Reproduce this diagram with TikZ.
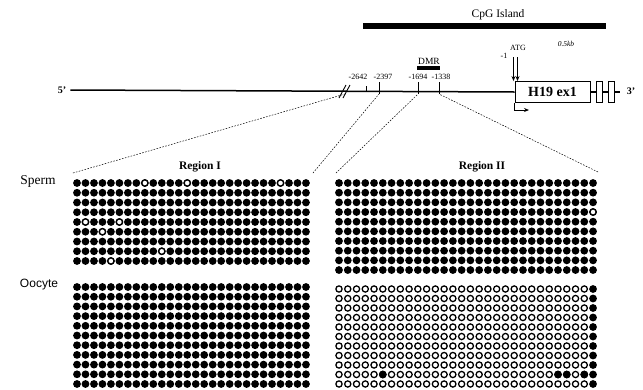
\documentclass[tikz,border=0pt]{standalone}
\usepackage{fontspec}
\setmainfont{Liberation Serif}
\newfontfamily\labsans{Liberation Sans}
\usetikzlibrary{arrows.meta,positioning}

\begin{document}
\begin{tikzpicture}[x=1pt,y=-1pt,
    every node/.style={inner sep=0pt},
    dna/.style={line width=1.5pt},
    tickmark/.style={line width=1pt},
    poslbl/.style={font=\fontsize{8}{8}\selectfont},
    reglbl/.style={font=\fontsize{11.5}{12}\selectfont\bfseries},
    rowlbl/.style={font=\fontsize{13.5}{14}\selectfont},
    zoomline/.style={line width=0.5pt,dash pattern=on 1.6pt off 1.4pt},
    unmeth/.style={draw=black,fill=white,line width=1.3pt},
    exonbox/.style={rectangle,draw,line width=0.9pt,fill=white,
                    minimum width=75pt,minimum height=21pt,
                    font=\fontsize{14}{14}\selectfont\bfseries},
    smallexon/.style={rectangle,draw,line width=0.9pt,fill=white,
                      minimum width=6pt,minimum height=21pt},
    atgarr/.style={-{Stealth[length=5pt,width=4pt]},line width=1.3pt}
  ]
  \useasboundingbox (0,0) rectangle (643,389);

  % CpG island
  \node[font=\fontsize{11.5}{12}\selectfont] (cpg) at (498,15) {CpG Island};
  \draw[line width=6pt] (363,25.5) -- (606,25.5);

  % gene line
  \node[font=\fontsize{10}{10}\selectfont\bfseries] (five) at (62,90) {5'};
  \node[exonbox] (ex1) at (552.5,92) {H19 ex1};
  \node[smallexon] (ex2) at (599,92) {};
  \node[smallexon] (ex3) at (611,92) {};
  \node[font=\fontsize{10}{10}\selectfont\bfseries] (three) at (631,91) {3'};
  \coordinate (lineend) at (620,92);
  \draw[dna] (five.east) ++(4pt,0) coordinate (start) -- (ex1.west);
  \draw[dna] (ex1.east) -- (ex2.west);
  \draw[dna] (ex2.east) -- (ex3.west);
  \draw[dna] (ex3.east) -- (lineend);

  % break
  \draw[line width=0.9pt] (339,98) -- (346,85);
  \draw[line width=0.9pt] (343,98) -- (350,85);
  \coordinate (brk) at (345,94);

  % positions
  \coordinate (t2642) at (366,91);
  \coordinate (t2397) at (379,94);
  \coordinate (t1694) at (418,94);
  \coordinate (t1338) at (439,94);
  \draw[line width=0.8pt] (t2642) -- ++(0,-5);
  \draw[tickmark] (t2397) -- ++(0,-12);
  \draw[tickmark] (t1694) -- ++(0,-12);
  \draw[tickmark] (t1338) -- ++(0,-12);
  \node[poslbl] (l2642) at (358,77) {-2642};
  \node[poslbl] (l2397) at (383,77) {-2397};
  \node[poslbl] (l1694) at (418,77) {-1694};
  \node[poslbl] (l1338) at (441,77) {-1338};

  % DMR
  \node[font=\fontsize{9.5}{9.5}\selectfont] (dmr) at (429,61) {DMR};
  \draw[line width=4pt] (417,67.5) -- (440,67.5);

  % ATG and start site
  \node[poslbl] (atg) at (518,48) {ATG};
  \node[poslbl] (m1) at (504,56) {-1};
  \coordinate (atgA) at (513.5,57);
  \coordinate (atgB) at (517.5,57);
  \draw[atgarr] (atgA) -- (atgA |- ex1.north);
  \draw[atgarr] (atgB) -- (atgB |- ex1.north);
  \coordinate (tss) at (529,110);
  \draw[-{Stealth[length=5pt,width=4pt]},line width=0.9pt] (ex1.south west) |- (tss);
  \node[font=\fontsize{7.5}{7.5}\selectfont\itshape] (kb) at (566,44) {0.5kb};

  % labels
  \node[reglbl] (reg1) at (200,167) {Region I};
  \node[reglbl] (reg2) at (482,167) {Region II};
  \node[rowlbl] (sperm) at (38,181) {Sperm};
  \node[font=\labsans\fontsize{12}{12}\selectfont] (oocyte) at (39,285) {Oocyte};

  % zoom lines
  \coordinate (r1l) at (73,173);
  \coordinate (r1r) at (313,173);
  \coordinate (r2l) at (336,173);
  \coordinate (r2r) at (598,172);
  \draw[zoomline] (r1l) -- (brk);
  \draw[zoomline] (r1r) -- (t2397);
  \draw[zoomline] (r2l) -- (t1694);
  \draw[zoomline] (r2r) -- (t1338);

  % Region I, sperm
  \foreach \r in {0,...,8}
    \foreach \c in {0,...,27}
      \fill (77+\c*8.48,183+\r*9.75) circle (3.9);
  \foreach \c/\r in {8/0,13/0,24/0,1/4,5/4,3/5,10/7,4/8}
    \draw[unmeth] (77+\c*8.48,183+\r*9.75) circle (3.1);

  % Region II, sperm
  \foreach \r in {0,...,9}
    \foreach \c in {0,...,29}
      \fill (339+\c*8.76,183+\r*9.67) circle (3.9);
  \draw[unmeth] (339+29*8.76,183+3*9.67) circle (3.1);

  % Region I, oocyte
  \foreach \r in {0,...,10}
    \foreach \c in {0,...,27}
      \fill (77+\c*8.48,287+\r*9.7) circle (3.9);

  % Region II, oocyte
  \foreach \r in {0,...,10}
    \foreach \c in {0,...,28}
      \draw[unmeth] (339+\c*8.76,289+\r*9.5) circle (3.1);
  \foreach \r in {0,...,10}
    \fill (339+29*8.76,289+\r*9.5) circle (3.9);
  \foreach \c in {5,25,26,28}
    \fill (339+\c*8.76,289+9*9.5) circle (3.9);
\end{tikzpicture}
\end{document}
